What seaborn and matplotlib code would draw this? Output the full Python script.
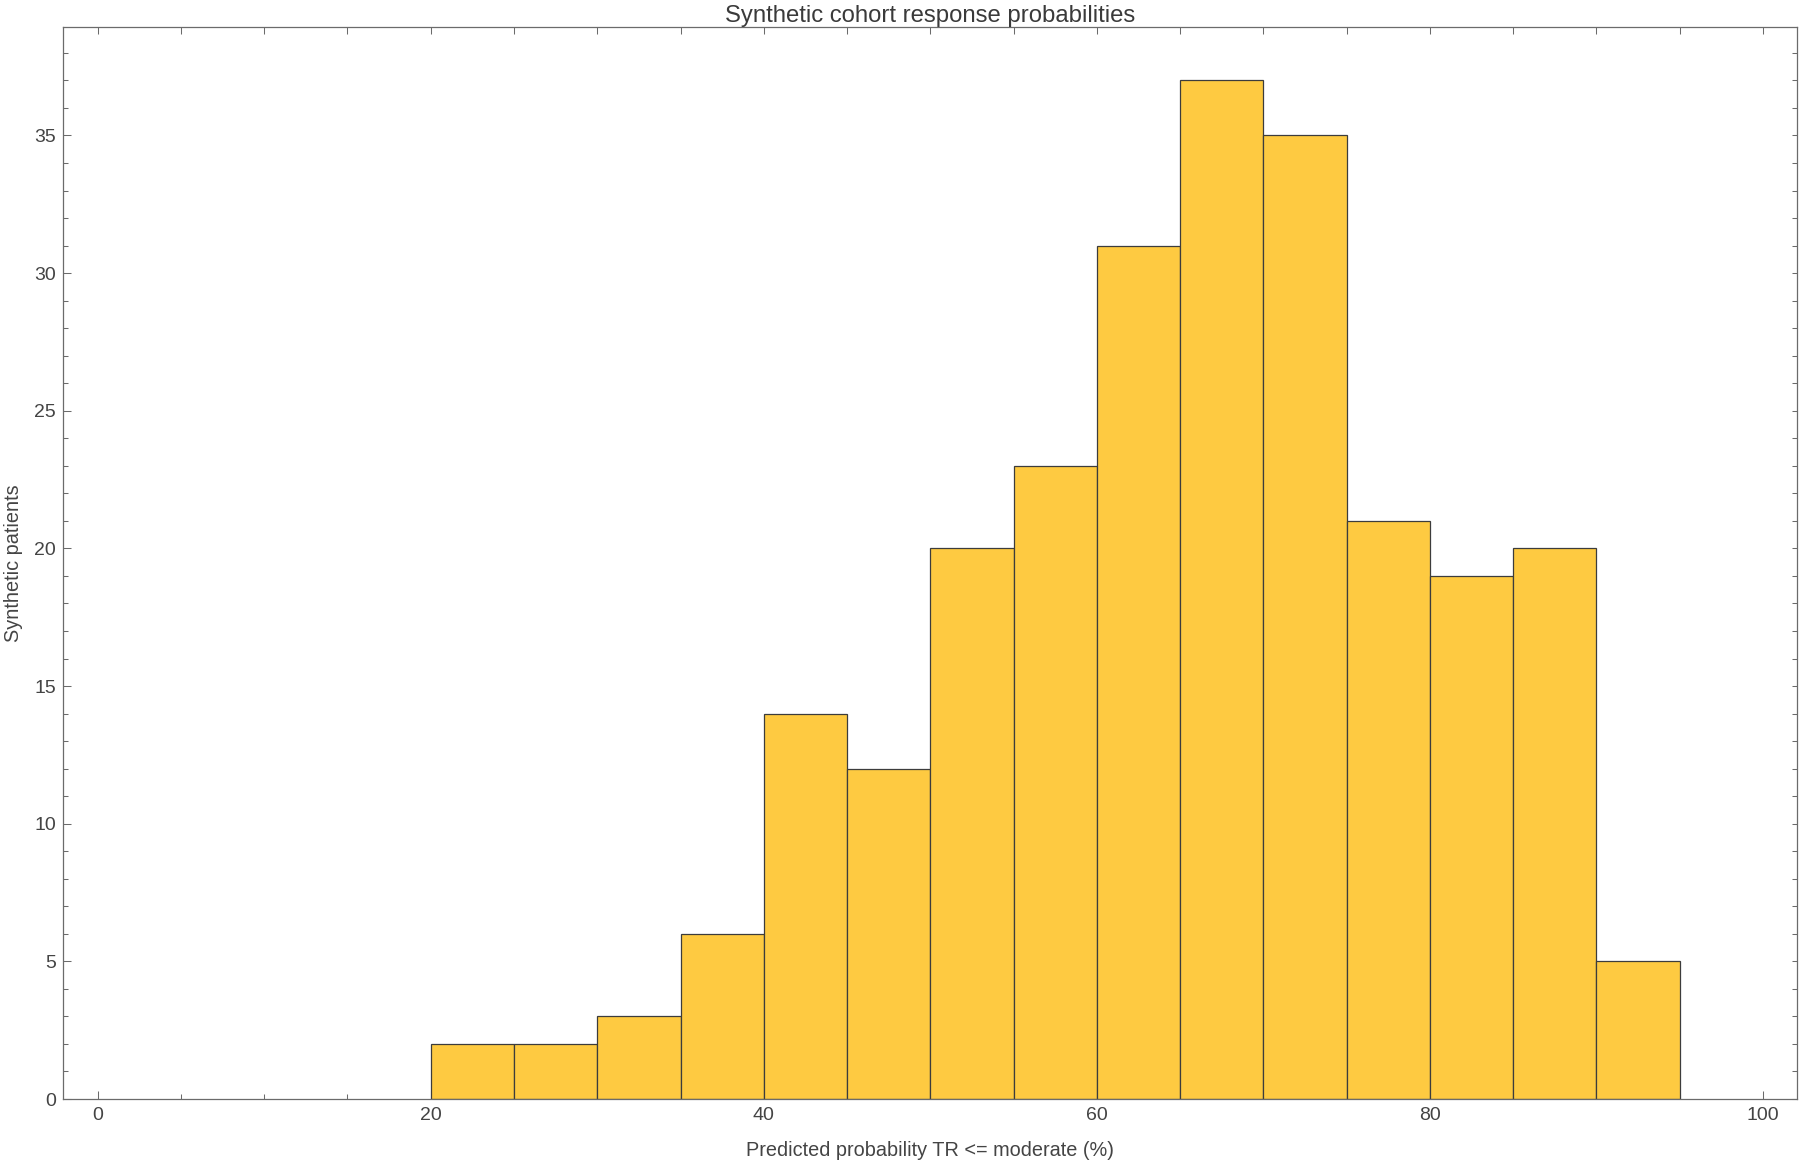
import matplotlib
matplotlib.use("Agg")
import matplotlib.pyplot as plt
from matplotlib.ticker import MultipleLocator
import seaborn as sns
import pandas as pd

# ---- data ----
bin_edges = [20, 25, 30, 35, 40, 45, 50, 55, 60, 65, 70, 75, 80, 85, 90, 95]
counts = [2, 2, 3, 6, 14, 12, 20, 23, 31, 37, 35, 21, 19, 20, 5]
x_ticks = [0, 20, 40, 60, 80, 100]
y_ticks = [0, 5, 10, 15, 20, 25, 30, 35]

title = "Synthetic cohort response probabilities"
x_label = "Predicted probability TR <= moderate (%)"
y_label = "Synthetic patients"

centers = [(a + b) / 2 for a, b in zip(bin_edges[:-1], bin_edges[1:])]
df = pd.DataFrame({"prob": centers, "n": counts})

sns.set_theme(style="white")
plt.rcParams["font.family"] = ["Liberation Sans", "DejaVu Sans"]

spine_c = "#6b6b6b"
text_c = "#444444"

fig = plt.figure(figsize=(18, 11.65), dpi=100)
ax = fig.add_axes([63 / 1800, 66 / 1165, (1797 - 63) / 1800, (1099 - 27) / 1165])

sns.histplot(data=df, x="prob", weights="n", bins=bin_edges, ax=ax,
             color="#FECA41", alpha=1.0, edgecolor="#3c3c3c", linewidth=0.9)

ax.set_xlim(-2.08, 102.04)
ax.set_ylim(0, 38.94)

ax.set_xticks(x_ticks)
ax.set_yticks(y_ticks)
ax.xaxis.set_minor_locator(MultipleLocator(5))
ax.yaxis.set_minor_locator(MultipleLocator(1))

ax.tick_params(axis="both", which="major", direction="in", length=6.0, width=0.75,
               color=spine_c, labelsize=14, labelcolor=text_c)
ax.tick_params(axis="both", which="minor", direction="in", length=3.6, width=0.75,
               color=spine_c)
ax.tick_params(axis="x", which="major", pad=6)
ax.tick_params(axis="y", which="major", pad=5)
ax.tick_params(bottom=True, left=True, top=False, right=False, which="both")

for s in ax.spines.values():
    s.set_visible(True)
    s.set_color(spine_c)
    s.set_linewidth(0.9)

# top / right frame ticks (no labels)
secx = ax.secondary_xaxis("top")
secx.xaxis.set_major_locator(MultipleLocator(5))
secx.tick_params(direction="in", length=5, width=0.75, color=spine_c, labeltop=False)
secx.spines["top"].set_visible(False)
secy = ax.secondary_yaxis("right")
secy.yaxis.set_major_locator(MultipleLocator(1))
secy.tick_params(direction="in", length=3.5, width=0.75, color=spine_c, labelright=False)
secy.spines["right"].set_visible(False)

ax.set_xlabel(x_label, fontsize=14.3, color=text_c, labelpad=12)
ax.set_ylabel(y_label, fontsize=14.3, color=text_c, labelpad=8)
ax.set_title(title, fontsize=17.2, color="#3a3a3a", pad=1)

fig.savefig("out.png", dpi=100)
